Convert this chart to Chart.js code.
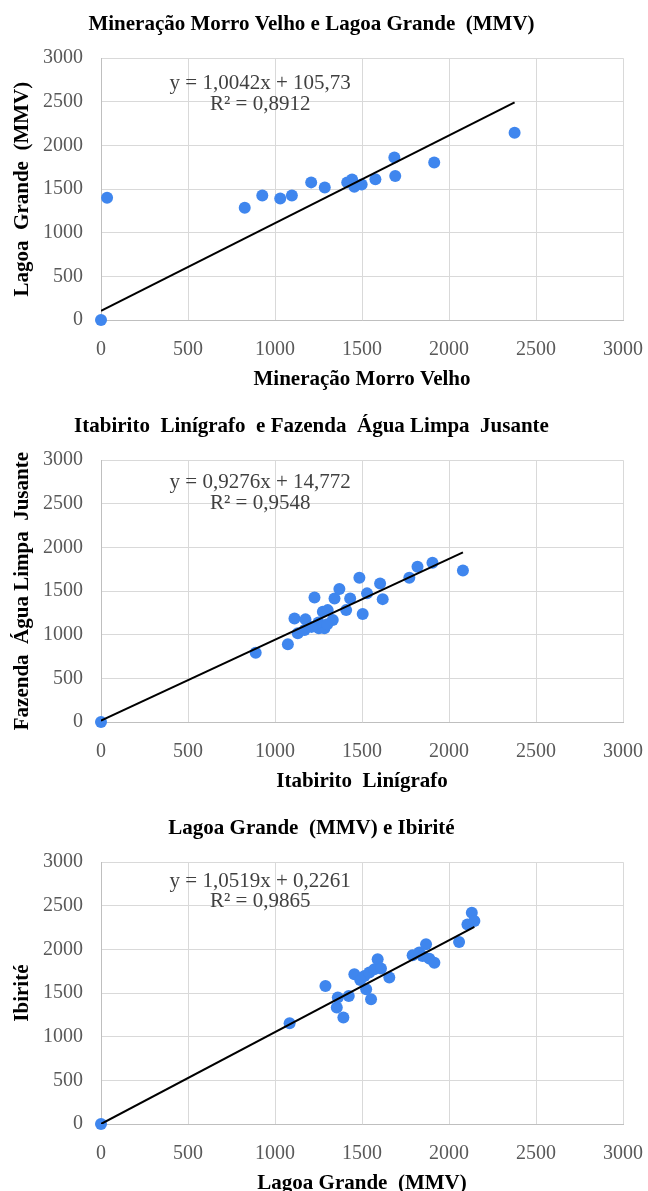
<!DOCTYPE html>
<html><head><meta charset="utf-8">
<script src="https://cdn.jsdelivr.net/npm/chart.js@4"></script>
<style>
body{margin:0;background:#fff;overflow:hidden;width:648px;height:1191px;position:relative}
.c{position:absolute;left:0;width:648px;height:400px}
</style></head>
<body>
<div class="c" style="top:0"><canvas id="c1" width="648" height="400"></canvas></div>
<div class="c" style="top:402px"><canvas id="c2" width="648" height="400"></canvas></div>
<div class="c" style="top:804px"><canvas id="c3" width="648" height="400"></canvas></div>
<script>
// ---- Chart 1: Mineração Morro Velho x Lagoa Grande (MMV)
const mmvX = [0, 35, 826, 927, 1030, 1097, 1208, 1286, 1415, 1443, 1456, 1498, 1577, 1686, 1691, 1915, 2377];
const lgY  = [0, 1400, 1286, 1428, 1393, 1428, 1577, 1519, 1577, 1611, 1526, 1554, 1614, 1863, 1649, 1806, 2145];
const trend1 = [{x:0, y:106}, {x:2377, y:2493}];
const eq1 = ["y = 1,0042x + 105,73", "R\u00b2 = 0,8912"];

// ---- Chart 2: Itabirito Linígrafo x Fazenda Água Limpa Jusante
const itaX = [0, 889, 1074, 1112, 1175, 1131, 1170, 1227, 1252, 1275, 1284, 1303, 1332, 1342, 1370, 1409, 1432, 1485, 1504, 1529, 1604, 1619, 1772, 1819, 1905, 2080, 1250, 1300, 1210];
const fazY = [0, 793, 890, 1187, 1176, 1016, 1053, 1428, 1073, 1263, 1073, 1282, 1168, 1416, 1523, 1282, 1416, 1652, 1237, 1474, 1588, 1408, 1652, 1778, 1824, 1735, 1140, 1120, 1090];
const trend2 = [{x:0, y:15}, {x:2080, y:1944}];
const eq2 = ["y = 0,9276x + 14,772", "R\u00b2 = 0,9548"];

// ---- Chart 3: Lagoa Grande (MMV) x Ibirité
const lg2X = [0, 1084, 1290, 1361, 1355, 1393, 1424, 1456, 1514, 1524, 1552, 1542, 1571, 1590, 1609, 1657, 1791, 1829, 1868, 1887, 1916, 1848, 2058, 2106, 2131, 2146, 1490];
const ibiY = [0, 1155, 1582, 1449, 1335, 1220, 1467, 1716, 1696, 1544, 1430, 1735, 1773, 1887, 1781, 1678, 1933, 1964, 2059, 1895, 1849, 1925, 2085, 2287, 2421, 2325, 1650];
const trend3 = [{x:0, y:0}, {x:2146, y:2258}];
const eq3 = ["y = 1,0519x + 0,2261", "R\u00b2 = 0,9865"];

const tickVals = [0, 500, 1000, 1500, 2000, 2500, 3000];

const SERIF = '"Liberation Serif", "Times New Roman", serif';
const BLUE = '#3F86EE';

const eqnPlugin = {
  id: 'eqn',
  afterDatasetsDraw(chart, args, opts) {
    const {ctx} = chart;
    const xs = chart.scales.x, ys = chart.scales.y;
    ctx.save();
    ctx.font = '21px ' + SERIF;
    ctx.fillStyle = '#404040';
    ctx.textAlign = 'center';
    ctx.textBaseline = 'middle';
    opts.lines.forEach((t, i) => {
      ctx.fillText(t, xs.getPixelForValue(opts.x), ys.getPixelForValue(opts.ys[i]));
    });
    ctx.restore();
  }
};

function makeChart(id, cfg) {
  const pts = cfg.xs.map((x, i) => ({x: x, y: cfg.ys[i]}));
  const tickFont = {family: SERIF, size: 20};
  const titleFont = {family: SERIF, size: 21, weight: 'bold'};
  const axTitleFont = {family: SERIF, size: 21, weight: 'bold'};
  new Chart(document.getElementById(id), {
    type: 'scatter',
    data: {datasets: [
      {type: 'line', data: cfg.trend, borderColor: '#000', borderWidth: 2, pointRadius: 0, fill: false, showLine: true, tension: 0},
      {data: pts, backgroundColor: BLUE, borderColor: BLUE, borderWidth: 0, pointRadius: 6, pointHoverRadius: 6, clip: false}
    ]},
    options: {
      responsive: false, animation: false, devicePixelRatio: 1,
      layout: {padding: {left: 0, right: 25, top: 0, bottom: 0}},
      plugins: {
        legend: {display: false}, tooltip: {enabled: false},
        title: {display: true, text: cfg.title, font: titleFont, color: '#000', padding: {top: 12, bottom: 21}},
        eqn: {lines: cfg.eq, x: 915, ys: cfg.eqY}
      },
      scales: {
        x: {
          type: 'linear', min: 0, max: 3000,
          afterBuildTicks(s) { s.ticks = tickVals.map(v => ({value: v})); },
          ticks: {padding: 18, font: tickFont, color: '#595959', callback: v => String(v), maxRotation: 0},
          grid: {color: '#d9d9d9', drawTicks: false},
          border: {color: '#bfbfbf'},
          title: {display: true, text: cfg.xTitle, font: axTitleFont, color: '#000', padding: {top: 0, bottom: 8}},
          afterFit(s) { s.height = 80; s.paddingLeft = 0; s.paddingRight = 0; }
        },
        y: {
          type: 'linear', min: 0, max: 3000,
          afterBuildTicks(s) { s.ticks = tickVals.map(v => ({value: v})); },
          ticks: {padding: 18, font: tickFont, color: '#595959', callback: v => String(v)},
          grid: {color: '#d9d9d9', drawTicks: false},
          border: {color: '#bfbfbf'},
          title: {display: true, text: cfg.yTitle, font: axTitleFont, color: '#000', padding: {top: 10, bottom: 0}},
          afterFit(s) { s.width = 101; s.paddingTop = 0; s.paddingBottom = 0; }
        }
      }
    },
    plugins: [eqnPlugin]
  });
}

makeChart('c1', {xs: mmvX, ys: lgY, trend: trend1, eq: eq1, eqY: [2714, 2473],
  title: 'Mineração Morro Velho e Lagoa Grande  (MMV)', xTitle: 'Mineração Morro Velho', yTitle: 'Lagoa  Grande  (MMV)'});
makeChart('c2', {xs: itaX, ys: fazY, trend: trend2, eq: eq2, eqY: [2748, 2508],
  title: 'Itabirito  Linígrafo  e Fazenda  Água Limpa  Jusante', xTitle: 'Itabirito  Linígrafo', yTitle: 'Fazenda  Água Limpa  Jusante'});
makeChart('c3', {xs: lg2X, ys: ibiY, trend: trend3, eq: eq3, eqY: [2783, 2554],
  title: 'Lagoa Grande  (MMV) e Ibirité', xTitle: 'Lagoa Grande  (MMV)', yTitle: 'Ibirité'});
</script>
</body></html>
